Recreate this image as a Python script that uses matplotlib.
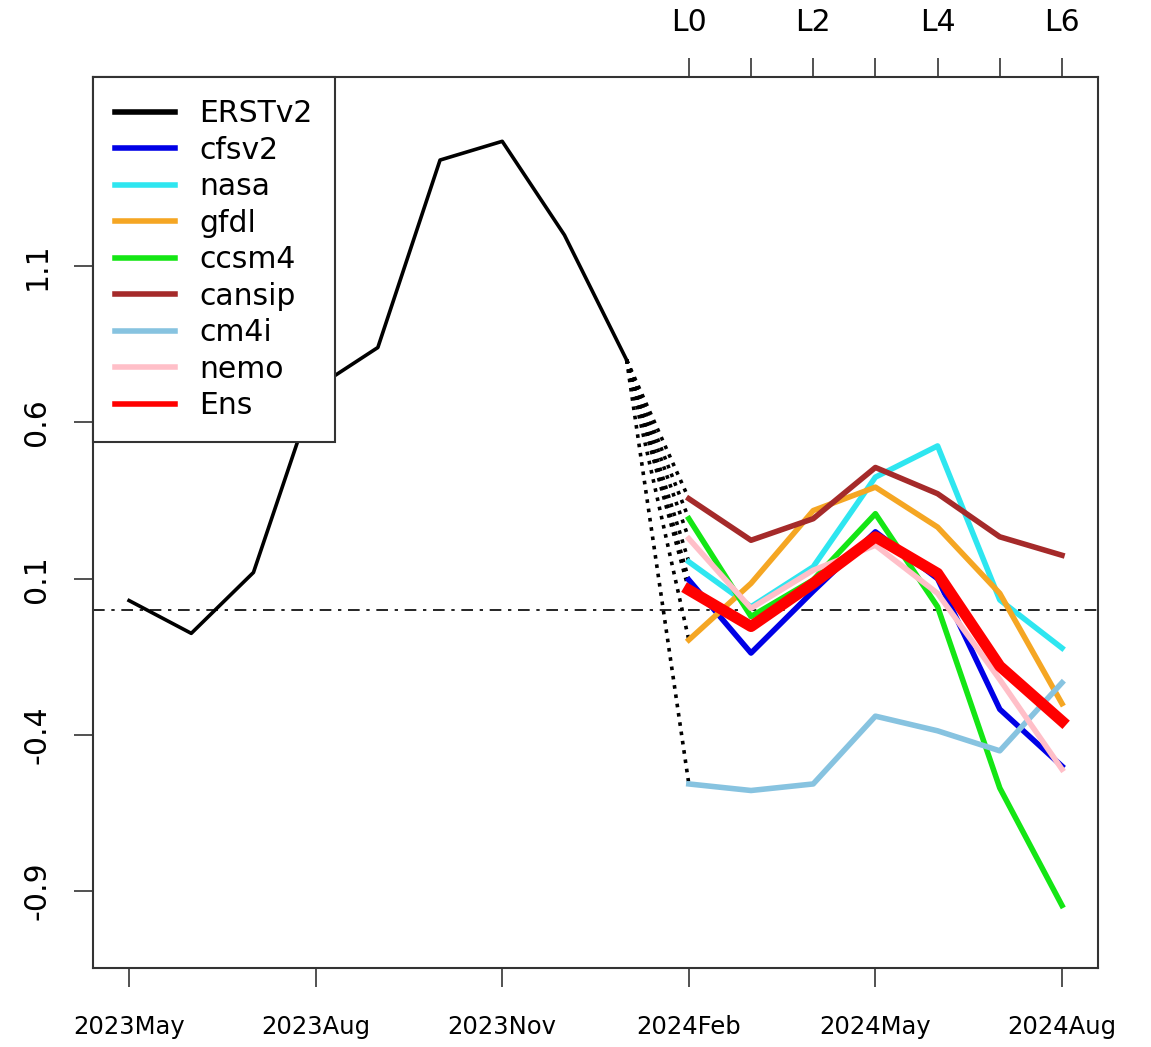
import matplotlib
matplotlib.use("Agg")
import matplotlib.pyplot as plt
from matplotlib.lines import Line2D

# months on the time axis, 2023May .. 2024Aug
months = ['2023May', '2023Jun', '2023Jul', '2023Aug', '2023Sep', '2023Oct',
          '2023Nov', '2023Dec', '2024Jan', '2024Feb', '2024Mar', '2024Apr',
          '2024May', '2024Jun', '2024Jul', '2024Aug']
leads = ['L0', 'L1', 'L2', 'L3', 'L4', 'L5', 'L6']

# observed anomaly May..Jan
obs = [0.03, -0.075, 0.12, 0.71, 0.84, 1.44, 1.50, 1.20, 0.80]

# forecasts from Feb (L0) to Aug (L6)
cfsv2 = [0.096, -0.138, 0.06, 0.25, 0.10, -0.318, -0.50]
nasa = [0.154, 0.01, 0.138, 0.425, 0.525, 0.032, -0.122]
gfdl = [-0.096, 0.085, 0.318, 0.393, 0.265, 0.053, -0.30]
ccsm4 = [0.292, -0.021, 0.096, 0.308, 0.01, -0.57, -0.946]
cansip = [0.356, 0.223, 0.292, 0.456, 0.372, 0.234, 0.175]
cm4i = [-0.557, -0.578, -0.557, -0.34, -0.387, -0.451, -0.233]
nemo = [0.228, 0.005, 0.127, 0.207, 0.053, -0.223, -0.51]
ens = [0.064, -0.053, 0.085, 0.234, 0.117, -0.18, -0.356]

models = [('cfsv2', cfsv2, '#0000e6'),
          ('nasa', nasa, '#2ee6f0'),
          ('gfdl', gfdl, '#f5a623'),
          ('ccsm4', ccsm4, '#14e614'),
          ('cansip', cansip, '#a52a2a'),
          ('cm4i', cm4i, '#87c3e0'),
          ('nemo', nemo, '#ffbfc8')]

plt.rcParams['font.family'] = 'DejaVu Sans'

fig = plt.figure(figsize=(11.51, 10.47), dpi=100)
ax = fig.add_axes([0.0808, 0.0755, 0.8732, 0.851])

x_obs = list(range(len(obs)))
x_fc = list(range(len(obs), len(months)))
last = len(obs) - 1

ax.axhline(0, color='black', lw=1.2, dashes=(7, 4, 2, 4), zorder=1)

ax.plot(x_obs, obs, color='black', lw=2.6, zorder=3)

# dotted links from last observation to each first lead
for name, vals, col in models + [('Ens', ens, 'red')]:
    ax.plot([last, x_fc[0]], [obs[-1], vals[0]], color='black', lw=2.6,
            linestyle=(0, (1, 1.6)), zorder=2)

for name, vals, col in models:
    ax.plot(x_fc, vals, color=col, lw=4.0, zorder=4)
ax.plot(x_fc, ens, color='red', lw=8.0, zorder=5)

ax.set_xlim(-0.58, 15.58)
ax.set_ylim(-1.146, 1.706)

ax.set_yticks([-0.9, -0.4, 0.1, 0.6, 1.1])
ax.set_yticklabels(['-0.9', '-0.4', '0.1', '0.6', '1.1'], rotation=90,
                   va='center', fontsize=21.5)
ax.tick_params(axis='y', length=14, width=1.2, pad=16, color='#333333')

ax.set_xticks(range(0, len(months), 3))
ax.set_xticklabels(months[::3], fontsize=17.5)
ax.tick_params(axis='x', length=14, width=1.2, pad=20, color='#333333')

top = ax.secondary_xaxis('top')
top.set_xticks(x_fc)
top.set_xticklabels([l if i % 2 == 0 else '' for i, l in enumerate(leads)],
                    fontsize=21.5)
top.tick_params(length=14, width=1.2, pad=15, color='#333333')
top.spines['top'].set_visible(False)

for s in ax.spines.values():
    s.set_linewidth(1.5)
    s.set_color('#333333')

handles = [Line2D([], [], color='black', lw=4.0)]
labels = ['ERSTv2']
for name, vals, col in models:
    handles.append(Line2D([], [], color=col, lw=4.0))
    labels.append(name)
handles.append(Line2D([], [], color='red', lw=4.0))
labels.append('Ens')

leg = ax.legend(handles, labels, loc='upper left', fontsize=21.5,
                borderaxespad=0, fancybox=False, framealpha=1,
                handlelength=2.0, handletextpad=0.8, labelspacing=0.25,
                borderpad=0.75)
leg.get_frame().set_edgecolor('#333333')
leg.get_frame().set_linewidth(1.5)
leg.set_zorder(10)

fig.savefig('out.png', dpi=100)
